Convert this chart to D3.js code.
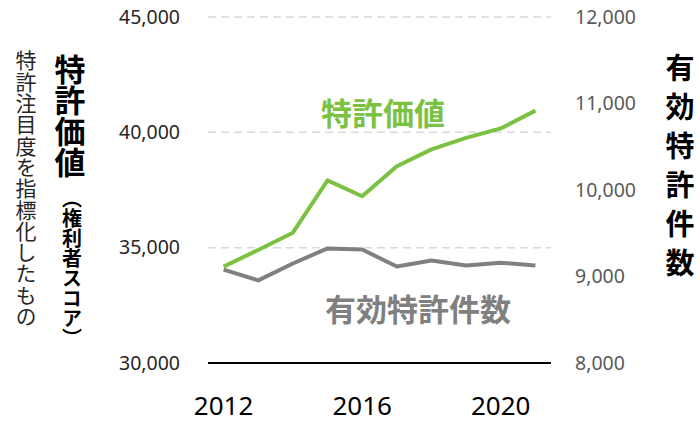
<!DOCTYPE html>
<html>
<head>
<meta charset="utf-8">
<script src="https://cdn.jsdelivr.net/npm/d3@7"></script>
<style>
  body { margin: 0; background: #fff; }
  text { font-family: "Noto Sans", "Noto Sans CJK JP", sans-serif; }
  .jp { font-family: "Noto Sans CJK JP", sans-serif; }
</style>
</head>
<body>
<div id="chart-area"></div>
<script>
const years = [2012, 2013, 2014, 2015, 2016, 2017, 2018, 2019, 2020, 2021];
const patentValue = [34180, 34900, 35650, 37920, 37230, 38530, 39260, 39760, 40170, 40940];
const validPatents = [9080, 8955, 9150, 9325, 9312, 9115, 9185, 9128, 9160, 9128];
const leftTicks = [30000, 35000, 40000, 45000];
const rightTicks = [8000, 9000, 10000, 11000, 12000];
const yearLabels = [2012, 2016, 2020];

const width = 700, height = 422;
const margin = {top:17, right:149, bottom:59, left:208};

const green = "#7cc242";
const grey = "#808080";

var svg = d3.select("#chart-area").append("svg")
    .attr("width", width)
    .attr("height", height);

var x = d3.scalePoint()
    .domain(years)
    .range([margin.left, width - margin.right])
    .padding(0.45);

var yLeft = d3.scaleLinear()
    .domain([30000, 45000])
    .range([height - margin.bottom, margin.top]);

var yRight = d3.scaleLinear()
    .domain([8000, 12000])
    .range([height - margin.bottom, margin.top]);

var fmt = d3.format(",");

// dashed grid lines
svg.append("g")
    .selectAll("line")
    .data(leftTicks.filter(d => d > 30000))
    .enter().append("line")
    .attr("x1", margin.left)
    .attr("x2", width - margin.right)
    .attr("y1", d => yLeft(d))
    .attr("y2", d => yLeft(d))
    .attr("stroke", "#d9d9d9")
    .attr("stroke-width", 1.5)
    .attr("stroke-dasharray", "8,5");

// baseline
svg.append("line")
    .attr("x1", margin.left)
    .attr("x2", width - margin.right)
    .attr("y1", yLeft(30000))
    .attr("y2", yLeft(30000))
    .attr("stroke", "#000")
    .attr("stroke-width", 2);

// left axis labels
svg.append("g")
    .selectAll("text")
    .data(leftTicks)
    .enter().append("text")
    .attr("x", 180)
    .attr("y", d => yLeft(d))
    .attr("dy", "0.35em")
    .attr("text-anchor", "end")
    .attr("font-size", 19.5)
    .attr("fill", "#262626")
    .text(d => fmt(d));

// right axis labels
svg.append("g")
    .selectAll("text")
    .data(rightTicks)
    .enter().append("text")
    .attr("x", 575)
    .attr("y", d => yRight(d))
    .attr("dy", "0.35em")
    .attr("text-anchor", "start")
    .attr("font-size", 19.5)
    .attr("fill", "#595959")
    .text(d => fmt(d));

// year labels
svg.append("g")
    .selectAll("text")
    .data(yearLabels)
    .enter().append("text")
    .attr("x", d => x(d))
    .attr("y", 415)
    .attr("text-anchor", "middle")
    .attr("font-size", 26)
    .attr("fill", "#000")
    .text(d => d);

// lines
var lineLeft = d3.line()
    .x((d,i) => x(years[i]))
    .y(d => yLeft(d));

var lineRight = d3.line()
    .x((d,i) => x(years[i]))
    .y(d => yRight(d));

svg.append("path")
    .datum(validPatents)
    .attr("fill", "none")
    .attr("stroke", grey)
    .attr("stroke-width", 4)
    .attr("stroke-linejoin", "round")
    .attr("d", lineRight);

svg.append("path")
    .datum(patentValue)
    .attr("fill", "none")
    .attr("stroke", green)
    .attr("stroke-width", 4)
    .attr("stroke-linejoin", "round")
    .attr("d", lineLeft);

// series labels
svg.append("text")
    .attr("class", "jp")
    .attr("x", 383)
    .attr("y", 114)
    .attr("dy", "0.36em")
    .attr("text-anchor", "middle")
    .attr("font-size", 31)
    .attr("font-weight", "bold")
    .attr("fill", green)
    .text("特許価値");

svg.append("text")
    .attr("class", "jp")
    .attr("x", 418)
    .attr("y", 310)
    .attr("dy", "0.36em")
    .attr("text-anchor", "middle")
    .attr("font-size", 31)
    .attr("font-weight", "bold")
    .attr("fill", grey)
    .text("有効特許件数");

// vertical axis titles
function vtext(xp, yp, size, weight, color, str, spacing) {
  svg.append("text")
    .attr("class", "jp")
    .attr("x", xp)
    .attr("y", yp)
    .attr("font-size", size)
    .attr("font-weight", weight)
    .attr("fill", color)
    .style("writing-mode", "vertical-rl")
    .style("letter-spacing", spacing + "px")
    .text(str);
}

vtext(26, 50, 21, "normal", "#262626", "特許注目度を指標化したもの", 0.3);
vtext(70, 54, 31, "bold", "#000", "特許価値", 0);
vtext(72, 188, 20, "bold", "#000", "（権利者スコア）", 0);
vtext(680, 53, 29, "bold", "#000", "有効特許件数", 10);
</script>
</body>
</html>
